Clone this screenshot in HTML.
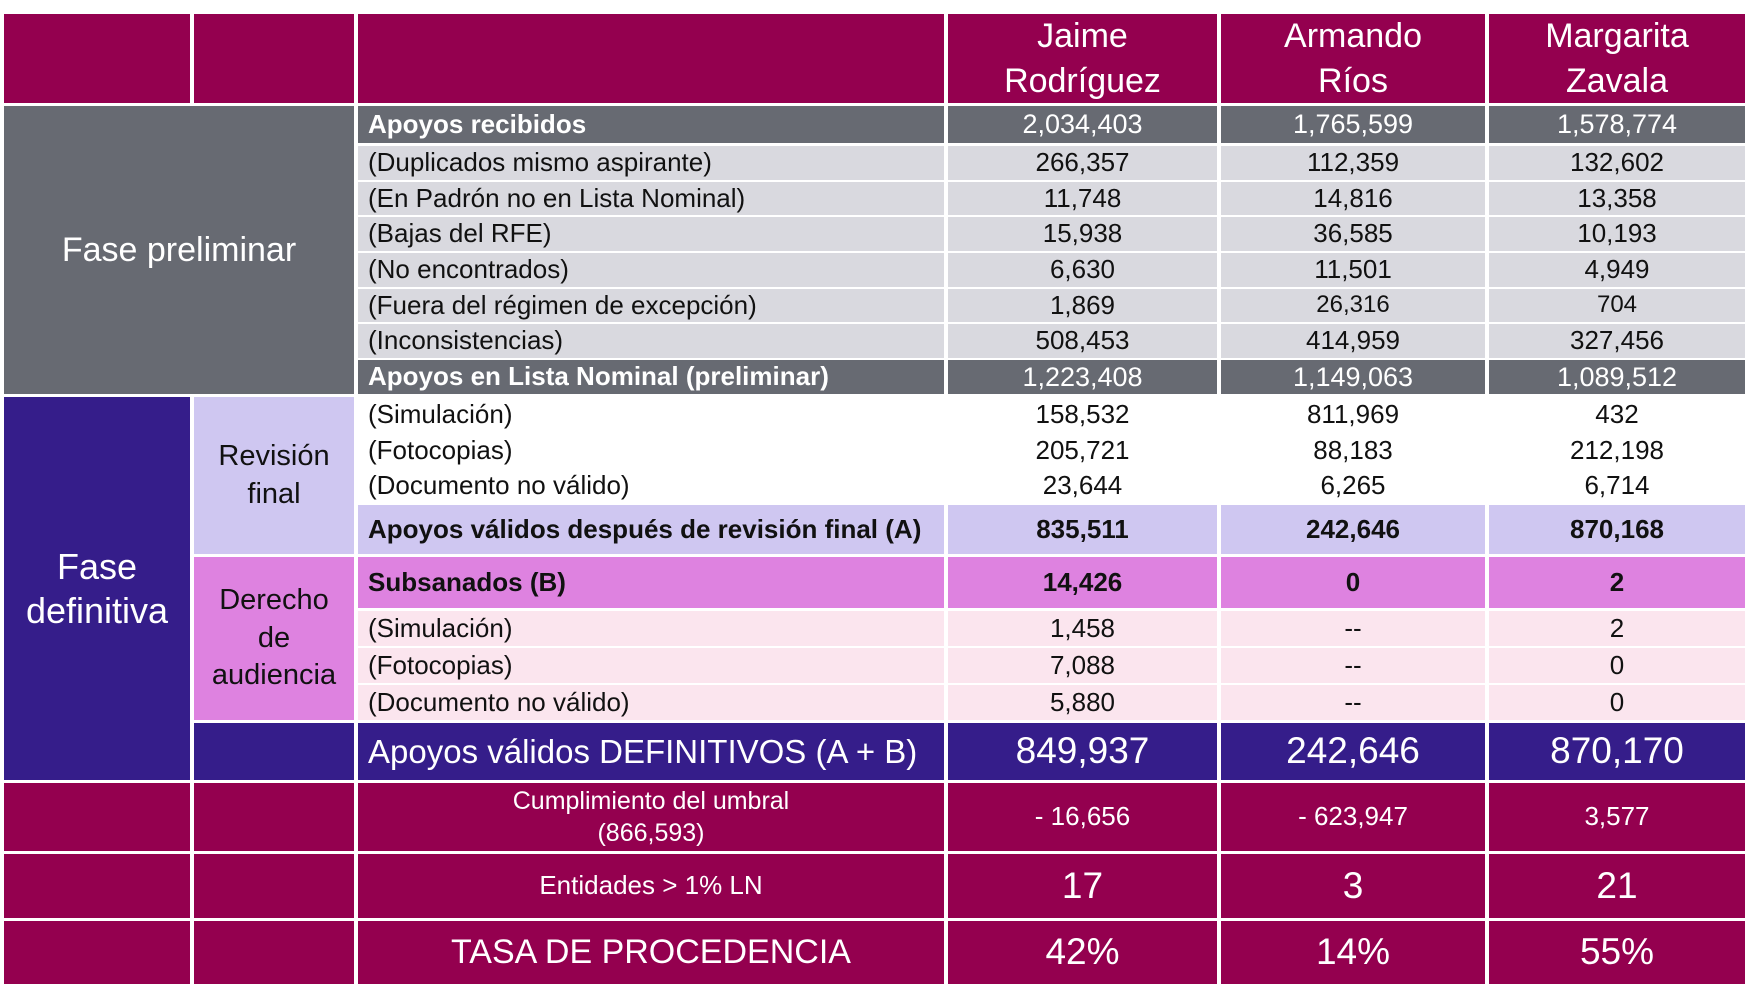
<!DOCTYPE html>
<html><head><meta charset="utf-8"><style>
body{margin:0;width:1749px;height:997px;background:#fff;position:relative;overflow:hidden;font-family:"Liberation Sans",sans-serif;}
.c{position:absolute;display:flex;align-items:center;justify-content:center;text-align:center;box-sizing:border-box;color:#111;font-size:26px;line-height:1.2}
.l{justify-content:flex-start;padding-left:10px;text-align:left}
.m{background:#94004f;color:#fff}
.g{background:#676a72;color:#fff}
.lg{background:#d9d9df}
.n{background:#351d8a;color:#fff}
.lv{background:#cfc7f1}
.pk{background:#de82e0}
.lp{background:#fbe5ee}
.b{font-weight:bold}
.w{color:#fff}
.h{font-size:34px;line-height:1.32}
.gn{font-size:27px}
</style></head><body>
<!-- header -->
<div class="c m" style="left:4px;top:14px;width:186px;height:89px"></div>
<div class="c m" style="left:194px;top:14px;width:160px;height:89px"></div>
<div class="c m" style="left:358px;top:14px;width:586px;height:89px"></div>
<div class="c m h" style="left:948px;top:14px;width:269px;height:89px">Jaime<br>Rodríguez</div>
<div class="c m h" style="left:1221px;top:14px;width:264px;height:89px">Armando<br>Ríos</div>
<div class="c m h" style="left:1489px;top:14px;width:256px;height:89px">Margarita<br>Zavala</div>

<!-- Fase preliminar -->
<div class="c g" style="left:4px;top:106px;width:350px;height:288px;font-size:34px">Fase preliminar</div>

<div class="c g b l" style="left:358px;top:106px;width:586px;height:37px">Apoyos recibidos</div>
<div class="c g gn" style="left:948px;top:106px;width:269px;height:37px">2,034,403</div>
<div class="c g gn" style="left:1221px;top:106px;width:264px;height:37px">1,765,599</div>
<div class="c g gn" style="left:1489px;top:106px;width:256px;height:37px">1,578,774</div>

<div class="c lg l" style="left:358px;top:146px;width:586px;height:34px">(Duplicados mismo aspirante)</div>
<div class="c lg" style="left:948px;top:146px;width:269px;height:34px">266,357</div>
<div class="c lg" style="left:1221px;top:146px;width:264px;height:34px">112,359</div>
<div class="c lg" style="left:1489px;top:146px;width:256px;height:34px">132,602</div>

<div class="c lg l" style="left:358px;top:182px;width:586px;height:33px">(En Padrón no en Lista Nominal)</div>
<div class="c lg" style="left:948px;top:182px;width:269px;height:33px">11,748</div>
<div class="c lg" style="left:1221px;top:182px;width:264px;height:33px">14,816</div>
<div class="c lg" style="left:1489px;top:182px;width:256px;height:33px">13,358</div>

<div class="c lg l" style="left:358px;top:217px;width:586px;height:34px">(Bajas del RFE)</div>
<div class="c lg" style="left:948px;top:217px;width:269px;height:34px">15,938</div>
<div class="c lg" style="left:1221px;top:217px;width:264px;height:34px">36,585</div>
<div class="c lg" style="left:1489px;top:217px;width:256px;height:34px">10,193</div>

<div class="c lg l" style="left:358px;top:253px;width:586px;height:34px">(No encontrados)</div>
<div class="c lg" style="left:948px;top:253px;width:269px;height:34px">6,630</div>
<div class="c lg" style="left:1221px;top:253px;width:264px;height:34px">11,501</div>
<div class="c lg" style="left:1489px;top:253px;width:256px;height:34px">4,949</div>

<div class="c lg l" style="left:358px;top:289px;width:586px;height:33px">(Fuera del régimen de excepción)</div>
<div class="c lg" style="left:948px;top:289px;width:269px;height:33px">1,869</div>
<div class="c lg" style="left:1221px;top:289px;width:264px;height:33px;font-size:24px">26,316</div>
<div class="c lg" style="left:1489px;top:289px;width:256px;height:33px;font-size:24px">704</div>

<div class="c lg l" style="left:358px;top:324px;width:586px;height:34px">(Inconsistencias)</div>
<div class="c lg" style="left:948px;top:324px;width:269px;height:34px">508,453</div>
<div class="c lg" style="left:1221px;top:324px;width:264px;height:34px">414,959</div>
<div class="c lg" style="left:1489px;top:324px;width:256px;height:34px">327,456</div>

<div class="c g b l" style="left:358px;top:360px;width:586px;height:34px">Apoyos en Lista Nominal (preliminar)</div>
<div class="c g gn" style="left:948px;top:360px;width:269px;height:34px">1,223,408</div>
<div class="c g gn" style="left:1221px;top:360px;width:264px;height:34px">1,149,063</div>
<div class="c g gn" style="left:1489px;top:360px;width:256px;height:34px">1,089,512</div>

<!-- Fase definitiva -->
<div class="c n" style="left:4px;top:397px;width:186px;height:383px;font-size:36px">Fase<br>definitiva</div>
<div class="c lv" style="left:194px;top:397px;width:160px;height:157px;font-size:29px;line-height:1.3">Revisión<br>final</div>
<div class="c pk" style="left:194px;top:557px;width:160px;height:163px;font-size:29px;line-height:1.3">Derecho<br>de<br>audiencia</div>
<div class="c n" style="left:194px;top:723px;width:160px;height:57px"></div>

<div class="c l" style="left:358px;top:397px;width:586px;height:35px">(Simulación)</div>
<div class="c" style="left:948px;top:397px;width:269px;height:35px">158,532</div>
<div class="c" style="left:1221px;top:397px;width:264px;height:35px">811,969</div>
<div class="c" style="left:1489px;top:397px;width:256px;height:35px">432</div>
<div class="c l" style="left:358px;top:433px;width:586px;height:35px">(Fotocopias)</div>
<div class="c" style="left:948px;top:433px;width:269px;height:35px">205,721</div>
<div class="c" style="left:1221px;top:433px;width:264px;height:35px">88,183</div>
<div class="c" style="left:1489px;top:433px;width:256px;height:35px">212,198</div>
<div class="c l" style="left:358px;top:468px;width:586px;height:35px">(Documento no válido)</div>
<div class="c" style="left:948px;top:468px;width:269px;height:35px">23,644</div>
<div class="c" style="left:1221px;top:468px;width:264px;height:35px">6,265</div>
<div class="c" style="left:1489px;top:468px;width:256px;height:35px">6,714</div>

<div class="c lv b l" style="left:358px;top:505px;width:586px;height:49px">Apoyos válidos después de revisión final (A)</div>
<div class="c lv b" style="left:948px;top:505px;width:269px;height:49px">835,511</div>
<div class="c lv b" style="left:1221px;top:505px;width:264px;height:49px">242,646</div>
<div class="c lv b" style="left:1489px;top:505px;width:256px;height:49px">870,168</div>

<div class="c pk b l" style="left:358px;top:557px;width:586px;height:51px">Subsanados (B)</div>
<div class="c pk b" style="left:948px;top:557px;width:269px;height:51px">14,426</div>
<div class="c pk b" style="left:1221px;top:557px;width:264px;height:51px">0</div>
<div class="c pk b" style="left:1489px;top:557px;width:256px;height:51px">2</div>

<div class="c lp l" style="left:358px;top:611px;width:586px;height:35px">(Simulación)</div>
<div class="c lp" style="left:948px;top:611px;width:269px;height:35px">1,458</div>
<div class="c lp" style="left:1221px;top:611px;width:264px;height:35px">--</div>
<div class="c lp" style="left:1489px;top:611px;width:256px;height:35px">2</div>
<div class="c lp l" style="left:358px;top:648px;width:586px;height:35px">(Fotocopias)</div>
<div class="c lp" style="left:948px;top:648px;width:269px;height:35px">7,088</div>
<div class="c lp" style="left:1221px;top:648px;width:264px;height:35px">--</div>
<div class="c lp" style="left:1489px;top:648px;width:256px;height:35px">0</div>
<div class="c lp l" style="left:358px;top:685px;width:586px;height:35px">(Documento no válido)</div>
<div class="c lp" style="left:948px;top:685px;width:269px;height:35px">5,880</div>
<div class="c lp" style="left:1221px;top:685px;width:264px;height:35px">--</div>
<div class="c lp" style="left:1489px;top:685px;width:256px;height:35px">0</div>

<div class="c n l" style="left:358px;top:723px;width:586px;height:57px;font-size:33px">Apoyos válidos DEFINITIVOS (A + B)</div>
<div class="c n" style="left:948px;top:723px;width:269px;height:57px;font-size:37px">849,937</div>
<div class="c n" style="left:1221px;top:723px;width:264px;height:57px;font-size:37px">242,646</div>
<div class="c n" style="left:1489px;top:723px;width:256px;height:57px;font-size:37px">870,170</div>

<!-- bottom -->
<div class="c m" style="left:4px;top:783px;width:186px;height:68px"></div>
<div class="c m" style="left:194px;top:783px;width:160px;height:68px"></div>
<div class="c m" style="left:358px;top:783px;width:586px;height:68px;font-size:25px;line-height:1.3">Cumplimiento del umbral<br>(866,593)</div>
<div class="c m" style="left:948px;top:783px;width:269px;height:68px">- 16,656</div>
<div class="c m" style="left:1221px;top:783px;width:264px;height:68px">- 623,947</div>
<div class="c m" style="left:1489px;top:783px;width:256px;height:68px">3,577</div>

<div class="c m" style="left:4px;top:854px;width:186px;height:64px"></div>
<div class="c m" style="left:194px;top:854px;width:160px;height:64px"></div>
<div class="c m" style="left:358px;top:854px;width:586px;height:64px">Entidades &gt; 1% LN</div>
<div class="c m" style="left:948px;top:854px;width:269px;height:64px;font-size:37px">17</div>
<div class="c m" style="left:1221px;top:854px;width:264px;height:64px;font-size:37px">3</div>
<div class="c m" style="left:1489px;top:854px;width:256px;height:64px;font-size:37px">21</div>

<div class="c m" style="left:4px;top:921px;width:186px;height:63px"></div>
<div class="c m" style="left:194px;top:921px;width:160px;height:63px"></div>
<div class="c m" style="left:358px;top:921px;width:586px;height:63px;font-size:34px">TASA DE PROCEDENCIA</div>
<div class="c m" style="left:948px;top:921px;width:269px;height:63px;font-size:37px">42%</div>
<div class="c m" style="left:1221px;top:921px;width:264px;height:63px;font-size:37px">14%</div>
<div class="c m" style="left:1489px;top:921px;width:256px;height:63px;font-size:37px">55%</div>
</body></html>
